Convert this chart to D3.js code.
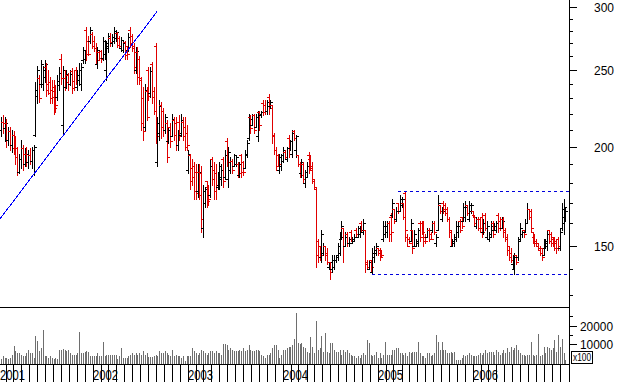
<!DOCTYPE html>
<html>
<head>
<meta charset="utf-8">
<title>Weekly price and volume</title>
<script src="https://d3js.org/d3.v7.min.js"></script>
<style>
  html, body { margin: 0; background: #fff; }
  svg { display: block; }
  text { font-family: "Liberation Sans", Arial, sans-serif; fill: #000; }
</style>
</head>
<body>
<svg id="chart" width="617" height="382"></svg>
<script>

// weekly bars, first week ends 2001-01-05
var firstWeek = new Date(2001, 0, 5);

var opens = [
  214,210,215,211,214,204,209,201,207,199,194,186,193,199,190,196,191,195,192,198,
  207,232,244,240,240,245,252,240,241,236,238,235,231,239,258,213,244,238,246,240,
  249,242,250,238,243,240,257,258,281,272,272,277,272,266,254,263,264,259,262,250,
  266,274,270,272,274,278,274,266,265,271,268,265,281,276,268,250,263,258,243,230,
  212,235,250,234,254,235,268,191,208,226,222,210,214,203,212,206,216,214,201,215,
  207,215,212,208,187,195,188,189,186,176,186,185,158,170,181,178,174,193,187,185,
  178,179,182,193,183,203,182,187,192,189,190,190,184,195,191,188,195,205,218,213,
  219,212,206,221,219,227,226,222,231,225,226,207,198,195,187,189,192,197,193,205,
  199,196,209,198,195,190,185,190,180,183,195,193,189,181,177,152,150,145,147,150,
  147,141,143,140,141,144,145,147,153,158,150,155,151,156,151,152,157,154,155,160,
  156,157,143,140,144,139,145,147,149,148,147,153,155,156,160,163,164,167,162,170,
  166,169,170,175,154,153,152,157,150,150,151,160,160,160,154,154,157,155,157,160,
  151,157,169,162,170,169,167,162,157,150,151,153,156,161,163,161,163,169,162,166,
  166,164,159,162,162,163,156,164,154,153,154,160,157,157,164,161,158,162,157,154,
  150,147,142,140,146,145,153,155,157,156,160,167,166,156,154,152,151,149,149,146,
  149,150,157,155,154,153,152,153,149,158,160,163
];

var highs = [
  220,218,219,218,217,212,212,210,209,206,200,196,204,201,199,200,198,199,200,201,
  241,253,246,257,253,257,255,250,245,243,243,239,246,252,262,253,250,250,248,250,
  251,250,252,250,255,255,267,264,283,276,283,279,276,270,267,264,265,275,273,272,
  278,278,277,283,281,279,276,275,272,272,268,278,283,277,270,267,267,260,245,238,
  240,238,252,252,256,238,270,218,229,228,224,220,216,212,214,220,218,218,210,219,
  220,218,218,213,198,196,193,191,190,190,190,189,179,178,181,179,193,194,191,190,
  186,191,190,194,198,205,200,194,193,196,195,191,191,196,192,198,204,220,219,220,
  220,220,222,222,222,229,229,229,233,229,226,208,200,196,196,196,200,198,200,207,
  204,210,210,207,195,191,193,191,187,191,197,195,191,182,178,153,150,157,151,150,
  149,143,143,146,146,146,151,156,161,158,156,156,154,157,154,155,158,159,159,161,
  162,157,144,144,144,149,150,151,149,149,148,161,161,161,161,165,172,167,168,170,
  174,173,170,176,155,154,162,157,157,153,158,161,161,161,155,158,158,156,161,161,
  155,174,169,168,171,170,168,163,157,153,155,161,161,162,163,170,171,169,171,170,
  166,164,163,163,163,165,162,165,161,156,161,161,160,161,165,163,163,163,158,155,
  150,149,146,147,146,154,160,157,157,162,170,167,167,156,155,153,151,150,149,153,
  153,157,157,156,154,154,153,154,158,170,172,168
];

var lows = [
  207,206,208,203,200,201,198,197,196,190,184,185,188,187,189,189,188,190,188,184,
  206,227,228,238,236,241,232,233,227,227,220,221,229,236,240,208,236,237,236,239,
  234,236,240,236,239,236,255,255,257,261,270,266,264,255,251,257,256,257,258,243,
  263,268,268,270,272,267,267,264,263,258,258,264,267,264,248,248,240,240,210,204,
  210,216,229,231,227,220,202,189,204,205,206,208,191,202,200,206,204,198,198,204,
  206,204,198,198,185,177,179,172,172,173,172,156,154,168,168,169,173,179,172,172,
  177,177,179,178,182,189,178,185,185,189,189,183,183,183,184,188,194,204,208,213,
  208,212,203,210,218,219,220,220,220,224,202,196,187,189,185,187,191,193,192,194,
  198,194,204,194,189,183,183,180,178,183,185,187,180,177,141,143,144,143,146,144,
  142,140,136,139,140,143,144,146,153,143,150,150,150,152,151,152,154,154,154,156,
  155,139,140,140,139,138,143,146,146,144,145,152,154,154,152,152,163,160,161,165,
  166,168,162,152,150,151,152,147,150,150,150,152,155,150,151,154,152,153,156,155,
  150,157,165,161,165,164,161,154,150,150,150,152,154,156,158,161,161,164,161,165,
  163,159,158,157,156,154,155,157,153,152,154,154,157,156,156,157,158,154,152,146,
  144,143,140,138,142,144,152,154,154,156,160,162,156,151,150,150,148,146,144,146,
  149,148,151,150,150,148,147,148,148,157,155,161
];

var closes = [
  210,215,211,214,204,209,201,207,199,194,186,193,199,190,196,191,195,192,198,200,
  236,250,230,254,250,254,236,234,230,231,224,226,242,248,244,250,241,247,240,247,
  237,238,243,246,250,252,265,262,262,262,281,268,266,257,265,259,258,272,270,268,
  276,271,275,280,279,269,268,273,270,261,262,275,270,266,252,264,245,244,214,209,
  236,218,232,249,231,222,206,214,225,212,210,218,194,210,203,217,207,201,208,206,
  216,206,200,201,196,181,183,176,175,186,174,162,176,177,171,172,189,182,176,178,
  183,189,187,181,195,191,197,192,187,195,194,185,190,186,186,196,202,217,211,219,
  210,218,220,213,221,221,222,228,224,228,206,198,189,190,194,195,198,194,199,196,
  203,208,205,206,190,184,191,182,186,189,187,188,182,178,146,145,146,155,150,146,
  143,143,139,144,144,146,150,154,159,150,154,151,153,153,153,154,155,158,157,156,
  160,142,141,143,141,147,148,150,147,145,146,159,159,160,155,156,170,161,166,166,
  172,172,163,157,150,151,160,149,155,152,157,154,156,152,152,157,153,153,160,156,
  154,170,166,166,167,165,162,156,151,152,154,159,159,157,159,168,168,165,169,169,
  163,160,162,158,158,156,160,158,159,155,159,155,159,160,158,158,161,156,153,148,
  145,144,145,146,143,152,158,156,155,160,167,163,158,152,151,150,148,147,145,151,
  152,155,152,151,151,149,149,150,156,167,168,166
];

// volume in units of 100 shares
var volumes = [
  1500,2000,3600,2500,2800,2000,2600,4500,9200,6300,5400,5400,4500,3600,3600,5400,7200,5400,5400,2800,
  14700,11500,6300,8100,17700,3600,3600,2800,3600,2800,2200,2800,2400,6800,6800,7700,7200,6300,6800,5400,
  4500,4500,4500,5400,16800,5400,5400,6000,6300,6000,3600,3600,3600,3600,5400,4000,4000,11000,3600,4500,
  4500,4500,4500,4500,4500,1900,3600,8100,2800,2800,2800,3600,4500,5400,4500,5400,4500,5400,4500,6300,
  4500,5400,3300,3300,3300,3600,4500,3600,6300,5400,5400,6300,5400,4500,3600,6800,3600,4500,3600,3600,
  2800,3600,1300,3600,3600,3600,8100,6300,5400,4500,5400,7200,6300,5400,4500,5400,6300,6300,5400,6300,
  5400,5400,4500,10300,10300,9800,7200,8100,7200,6300,6300,6300,7200,6300,7900,6300,7200,9600,7200,6300,
  6300,7200,7200,6300,4400,3600,2600,4400,4400,5400,7900,9600,9600,7200,2600,4400,7000,7000,7900,8800,
  8800,9600,13100,26900,10900,10000,10500,8800,7900,6100,5300,14000,8800,5300,22500,7000,7900,14500,6100,15800,
  6100,5300,10500,10500,7000,6100,6100,7000,4400,7000,6100,7000,5300,4400,3500,3500,2600,3500,2600,4400,
  5300,4400,12300,10500,4400,3500,4400,6100,2600,5500,2600,4400,11000,4400,4400,4400,7000,7000,7900,7900,
  5300,5300,4400,5300,3500,6100,5300,6100,6100,6100,11400,5300,3500,3500,2600,5300,5300,3500,4400,5300,
  14900,11400,7000,11400,7000,7000,5300,5300,6100,5300,6100,1700,1700,1700,2600,4400,3500,4400,5300,4400,
  3500,3500,3500,4400,5300,4400,5300,7000,5300,6100,6100,6100,4400,7000,6100,4400,5300,7000,5300,7900,
  6100,8800,7000,7900,9600,7000,5300,4400,4400,3500,4400,4400,11400,4400,3500,4400,15600,3500,4400,8800,
  5300,8800,7900,7000,7900,12300,6100,14900,8800,13000,5300,1700
];

var yearLabels = ["2001", "2002", "2003", "2004", "2005", "2006"];
var priceTicks = [130,140,150,160,170,180,190,200,210,220,230,240,250,260,270,280,290,300];
var priceLabels = [150, 200, 250, 300];
var volumeTicks = [10000, 15000, 20000, 25000];
var volumeLabels = [10000, 20000];

// support line drawn on the chart
var trendLine = [[new Date(2001, 0, 8), 162], [new Date(2002, 8, 4), 296]];
// trading range box
var rangeTop = {start: new Date(2005, 2, 18), price: 176};
var rangeBottom = {start: new Date(2004, 11, 8), price: 138.2};

var axisX = 570,
    priceBottom = 307,
    volBottom = 364,
    height = 382;

var svg = d3.select("#chart");

var x = d3.scaleTime()
    .domain([new Date(2001, 0, 1), new Date(2007, 0, 1)])
    .range([-2, 568]);

var y = d3.scaleLog()
    .domain([125.5, 306.2])
    .range([priceBottom, 0]);

var yVol = d3.scaleLinear()
    .domain([0, 30000])
    .range([363, 306.9]);

var n = Math.min(opens.length, highs.length, lows.length, closes.length, volumes.length);
var weeks = [];
for (var i = 0; i < n; i++) {
    weeks.push({
        date: d3.timeDay.offset(firstWeek, i * 7),
        o: opens[i], h: highs[i], l: lows[i], c: closes[i], v: volumes[i]
    });
}

function px(d) { return Math.round(x(d)) + 0.5; }
function py(v) { return Math.round(y(v)) + 0.5; }

// volume bars
svg.append("g")
    .selectAll("line")
    .data(weeks)
    .join("line")
    .attr("x1", function(d) { return px(d.date); })
    .attr("x2", function(d) { return px(d.date); })
    .attr("y1", volBottom)
    .attr("y2", function(d) { return Math.round(yVol(d.v)); })
    .attr("stroke", "#6e6e6e")
    .attr("shape-rendering", "crispEdges");

// price bars (high-low with open / close ticks)
svg.append("g")
    .selectAll("path")
    .data(weeks)
    .join("path")
    .attr("d", function(d) {
        var cx = px(d.date);
        var top = Math.round(y(d.h)), bot = Math.round(y(d.l)) + 1;
        if (bot - top < 2) bot = top + 2;
        return "M" + cx + "," + top + "V" + bot +
            "M" + (cx - 2.5) + "," + py(d.o) + "H" + cx +
            "M" + cx + "," + py(d.c) + "H" + (cx + 2.5);
    })
    .attr("fill", "none")
    .attr("stroke", function(d) { return d.c < d.o ? "#e00000" : "#000000"; })
    .attr("shape-rendering", "crispEdges");

// trend line
svg.append("path")
    .datum(trendLine)
    .attr("d", d3.line().x(function(d) { return x(d[0]); }).y(function(d) { return y(d[1]); }))
    .attr("stroke", "#0000ff")
    .attr("fill", "none")
    .attr("shape-rendering", "crispEdges");

// range box lines
[rangeTop, rangeBottom].forEach(function(r) {
    svg.append("line")
        .attr("x1", Math.round(x(r.start))).attr("x2", axisX)
        .attr("y1", py(r.price)).attr("y2", py(r.price))
        .attr("stroke", "#0000dd")
        .attr("stroke-dasharray", "3,3")
        .attr("shape-rendering", "crispEdges");
});

// panel frame
svg.append("line")
    .attr("x1", 0).attr("x2", axisX).attr("y1", priceBottom + 0.5).attr("y2", priceBottom + 0.5)
    .attr("stroke", "#000").attr("shape-rendering", "crispEdges");
svg.append("line")
    .attr("x1", 0).attr("x2", axisX).attr("y1", volBottom + 0.5).attr("y2", volBottom + 0.5)
    .attr("stroke", "#000").attr("shape-rendering", "crispEdges");
svg.append("line")
    .attr("x1", axisX - 0.5).attr("x2", axisX - 0.5).attr("y1", 0).attr("y2", height)
    .attr("stroke", "#000").attr("shape-rendering", "crispEdges");

// price axis
svg.append("g")
    .selectAll("line")
    .data(priceTicks)
    .join("line")
    .attr("x1", axisX)
    .attr("x2", function(d) { return priceLabels.indexOf(d) >= 0 ? axisX + 7 : axisX + 3; })
    .attr("y1", function(d) { return py(d); })
    .attr("y2", function(d) { return py(d); })
    .attr("stroke", "#000")
    .attr("shape-rendering", "crispEdges");

svg.append("g")
    .selectAll("text")
    .data(priceLabels)
    .join("text")
    .attr("x", 594)
    .attr("y", function(d) { return Math.round(y(d)) + 5; })
    .attr("font-size", 13)
    .attr("textLength", 20)
    .attr("lengthAdjust", "spacingAndGlyphs")
    .text(function(d) { return d; });

// volume axis
svg.append("g")
    .selectAll("line")
    .data(volumeTicks)
    .join("line")
    .attr("x1", axisX)
    .attr("x2", function(d) { return volumeLabels.indexOf(d) >= 0 ? axisX + 7 : axisX + 3; })
    .attr("y1", function(d) { return Math.round(yVol(d)) + 0.5; })
    .attr("y2", function(d) { return Math.round(yVol(d)) + 0.5; })
    .attr("stroke", "#000")
    .attr("shape-rendering", "crispEdges");

svg.append("g")
    .selectAll("text")
    .data(volumeLabels)
    .join("text")
    .attr("x", 580)
    .attr("y", function(d) { return Math.round(yVol(d)) + 5; })
    .attr("font-size", 12)
    .attr("textLength", 33)
    .attr("lengthAdjust", "spacingAndGlyphs")
    .text(function(d) { return d; });

svg.append("rect")
    .attr("x", 571.5).attr("y", 351.5).attr("width", 21).attr("height", 12)
    .attr("fill", "#fff").attr("stroke", "#000").attr("shape-rendering", "crispEdges");
svg.append("text")
    .attr("x", 573).attr("y", 361)
    .attr("font-size", 10)
    .attr("textLength", 18)
    .attr("lengthAdjust", "spacingAndGlyphs")
    .text("x100");

// time axis: month ticks and year labels
var months = d3.timeMonth.range(x.domain()[0], x.domain()[1]);
svg.append("g")
    .selectAll("line")
    .data(months)
    .join("line")
    .attr("x1", function(d) { return px(d); })
    .attr("x2", function(d) { return px(d); })
    .attr("y1", volBottom)
    .attr("y2", height)
    .attr("stroke", "#000")
    .attr("shape-rendering", "crispEdges");

svg.append("g")
    .selectAll("text")
    .data(yearLabels)
    .join("text")
    .attr("x", function(d) { return Math.max(0, Math.round(x(new Date(+d, 0, 1)))); })
    .attr("y", 380)
    .attr("font-size", 14)
    .attr("textLength", 25)
    .attr("lengthAdjust", "spacingAndGlyphs")
    .text(function(d) { return d; });

</script>
</body>
</html>
